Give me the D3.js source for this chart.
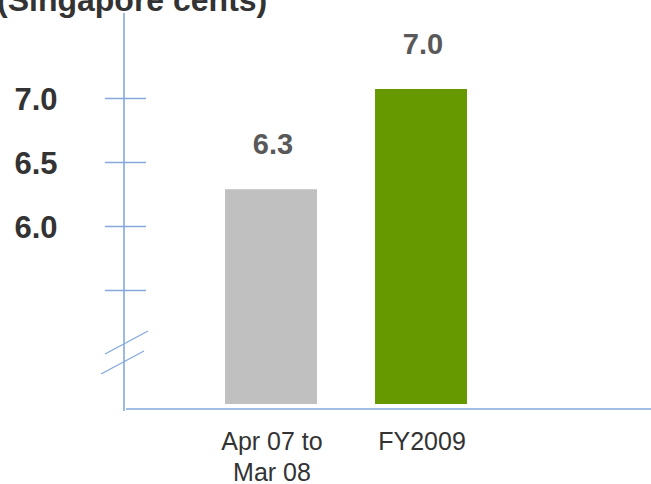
<!doctype HTML>
<html>
<head>
    <style>
        body { margin: 0; background: #ffffff; }
        svg { display: block; font-family: "Liberation Sans", Arial, sans-serif; }
    </style>
    <script src="https://d3js.org/d3.v7.min.js"></script>
</head>
<body>
<script>
    // chart values
    var categories = ["Apr 07 to\nMar 08", "FY2009"];
    var values = [6.3, 7.0];
    var valueLabels = ["6.3", "7.0"];
    var barColors = ["#c0c0c0", "#669900"];
    var tickValues = [5.5, 6.0, 6.5, 7.0];
    var tickLabels = ["", "6.0", "6.5", "7.0"];

    var canvasWidth = 651;
    var canvasHeight = 484;
    var axisColor = "#85a9dd";

    var svg = d3.select("body").append("svg")
        .attr("width", canvasWidth)
        .attr("height", canvasHeight);

    // scales
    var xScale = d3.scaleBand().domain(categories)
        .range([150, 542]).paddingInner(0.387).paddingOuter(0.5);
    // bars sit on a broken axis, so their own scale starts above zero
    var yBar = d3.scaleLinear().domain([4.8, 7.0]).range([404, 89]);
    // tick marks on the left axis
    var yAxis = d3.scaleLinear().domain([5.5, 7.0]).range([290.5, 98.5]);
    var axisX = 124;

    // Title
    svg.append("text")
        .attr("x", -3)
        .attr("y", 11)
        .attr("font-size", "32px")
        .attr("font-weight", "bold")
        .attr("fill", "#333333")
        .text("(Singapore cents)");

    // bars
    svg.selectAll(".bar")
        .data(values)
        .enter().append("rect")
        .attr("class", "bar")
        .attr("x", function(d, i) { return xScale(categories[i]); })
        .attr("width", xScale.bandwidth())
        .attr("y", function(d) { return yBar(d); })
        .attr("height", function(d) { return yBar.range()[0] - yBar(d); })
        .attr("fill", function(d, i) { return barColors[i]; });

    // value labels
    svg.selectAll(".val")
        .data(values)
        .enter().append("text")
        .attr("class", "val")
        .attr("x", function(d, i) { return xScale(categories[i]) + xScale.bandwidth() / 2 + 2; })
        .attr("y", function(d) { return yBar(d) - 35; })
        .attr("text-anchor", "middle")
        .attr("font-size", "29px")
        .attr("font-weight", "bold")
        .attr("fill", "#595959")
        .text(function(d, i) { return valueLabels[i]; });

    // y axis line
    svg.append("line")
        .attr("x1", axisX).attr("x2", axisX)
        .attr("y1", 13).attr("y2", 411)
        .attr("stroke", axisColor).attr("stroke-width", 1.6);

    // x axis line
    svg.append("line")
        .attr("x1", 126).attr("x2", canvasWidth)
        .attr("y1", 409).attr("y2", 409)
        .attr("stroke", axisColor).attr("stroke-width", 1.6);

    // ticks crossing the axis
    svg.selectAll(".tick")
        .data(tickValues)
        .enter().append("line")
        .attr("class", "tick")
        .attr("x1", axisX - 19).attr("x2", axisX + 22)
        .attr("y1", function(d) { return yAxis(d); })
        .attr("y2", function(d) { return yAxis(d); })
        .attr("stroke", axisColor).attr("stroke-width", 1.6);

    // tick labels
    svg.selectAll(".tickLabel")
        .data(tickValues)
        .enter().append("text")
        .attr("class", "tickLabel")
        .attr("x", 36)
        .attr("y", function(d) { return yAxis(d) + 11; })
        .attr("text-anchor", "middle")
        .attr("font-size", "31px")
        .attr("font-weight", "bold")
        .attr("fill", "#333333")
        .text(function(d, i) { return tickLabels[i]; });

    // axis break marks
    svg.append("line")
        .attr("x1", 105).attr("y1", 354).attr("x2", 148).attr("y2", 331)
        .attr("stroke", axisColor).attr("stroke-width", 1.4);
    svg.append("line")
        .attr("x1", 101).attr("y1", 374).attr("x2", 144).attr("y2", 351)
        .attr("stroke", axisColor).attr("stroke-width", 1.4);

    // category labels
    svg.selectAll(".cat")
        .data(categories)
        .enter().append("text")
        .attr("class", "cat")
        .attr("x", function(d) { return xScale(d) + xScale.bandwidth() / 2 + 1; })
        .attr("y", 450)
        .attr("text-anchor", "middle")
        .attr("font-size", "25px")
        .attr("fill", "#333333")
        .each(function(d) {
            var lines = d.split("\n");
            var t = d3.select(this);
            lines.forEach(function(line, k) {
                t.append("tspan")
                    .attr("x", t.attr("x"))
                    .attr("dy", k === 0 ? 0 : 30.5)
                    .text(line);
            });
        });
</script>
</body>
</html>
